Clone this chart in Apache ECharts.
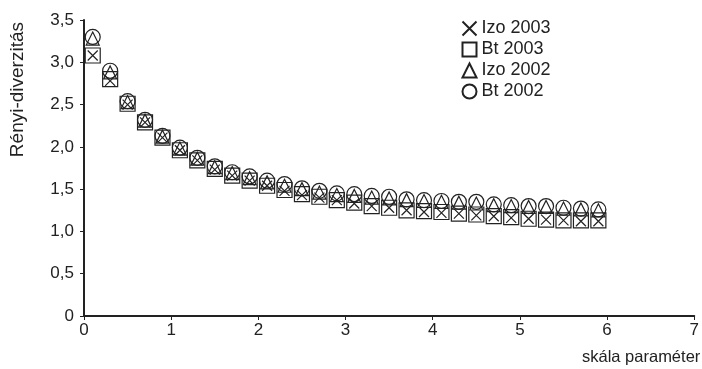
<!DOCTYPE html>
<html>
<head>
<meta charset="utf-8">
<script src="https://cdn.jsdelivr.net/npm/echarts@6/dist/echarts.min.js"></script>
<style>
  html, body { margin: 0; padding: 0; background: #fff; }
  #chart { width: 702px; height: 369px; }
</style>
</head>
<body>
<div id="chart"></div>
<script>
// skála paraméter (x)
const scaleParams = [0.1, 0.3, 0.5, 0.7, 0.9, 1.1, 1.3, 1.5, 1.7, 1.9, 2.1, 2.3, 2.5, 2.7, 2.9,
                     3.1, 3.3, 3.5, 3.7, 3.9, 4.1, 4.3, 4.5, 4.7, 4.9, 5.1, 5.3, 5.5, 5.7, 5.9]

const izo2003 = [3.08, 2.78, 2.50, 2.29, 2.11, 1.96, 1.84, 1.73, 1.66, 1.60, 1.54, 1.48, 1.43, 1.40, 1.37,
                 1.33, 1.30, 1.28, 1.25, 1.23, 1.22, 1.21, 1.19, 1.18, 1.16, 1.15, 1.14, 1.13, 1.12, 1.12]
const bt2003 = [3.08, 2.80, 2.51, 2.29, 2.11, 1.96, 1.84, 1.74, 1.66, 1.60, 1.54, 1.49, 1.44, 1.41, 1.37,
                1.34, 1.30, 1.28, 1.25, 1.24, 1.23, 1.21, 1.20, 1.18, 1.17, 1.15, 1.14, 1.13, 1.13, 1.13]
const izo2002 = [3.28, 2.88, 2.53, 2.31, 2.12, 1.98, 1.86, 1.76, 1.69, 1.63, 1.58, 1.54, 1.50, 1.46, 1.43,
                 1.42, 1.40, 1.39, 1.37, 1.36, 1.35, 1.34, 1.33, 1.31, 1.30, 1.29, 1.29, 1.27, 1.26, 1.25]
const bt2002 = [3.30, 2.90, 2.54, 2.32, 2.13, 1.99, 1.87, 1.77, 1.70, 1.65, 1.60, 1.56, 1.51, 1.48, 1.45,
                1.44, 1.42, 1.41, 1.38, 1.37, 1.36, 1.35, 1.35, 1.32, 1.31, 1.30, 1.30, 1.28, 1.27, 1.26]

const seriesNames = ['Izo 2003', 'Bt 2003', 'Izo 2002', 'Bt 2002']

const INK = '#222'
const FONT = "'Liberation Sans', Arial, sans-serif"
const CROSS = 'path://M0,0L10,10M10,0L0,10'

const pairs = vals => scaleParams.map((x, i) => [x, vals[i]])
const fmt = v => (v === 0 ? '0' : v.toFixed(1).replace('.', ','))

const markerSeries = (name, vals, symbol, size) => ({
    name,
    type: 'scatter',
    data: pairs(vals),
    symbol,
    symbolSize: size,
    itemStyle: {
        color: 'none',
        borderColor: INK,
        borderWidth: 1.2,
        opacity: 1,
    },
    emphasis: { disabled: true },
})

const chart = echarts.init(document.getElementById('chart'))

chart.setOption({
    animation: false,
    textStyle: { fontFamily: FONT },
    grid: {
        left: 84,
        right: 7,
        top: 20,
        bottom: 53,
    },
    legend: {
        orient: 'vertical',
        left: 455,
        top: 14,
        itemGap: 2,
        itemWidth: 14,
        itemHeight: 14,
        textStyle: { color: INK, fontSize: 18, lineHeight: 19, fontFamily: FONT },
        data: seriesNames,
    },
    xAxis: {
        type: 'value',
        min: 0,
        max: 7,
        interval: 1,
        axisLine: { lineStyle: { color: INK, width: 2 } },
        axisTick: { show: true, length: 4, lineStyle: { color: INK, width: 1 } },
        axisLabel: { color: INK, fontSize: 17, fontFamily: FONT, margin: 6 },
        splitLine: { show: false },
    },
    yAxis: {
        type: 'value',
        min: 0,
        max: 3.5,
        interval: 0.5,
        axisLine: { show: true, lineStyle: { color: INK, width: 2 } },
        axisTick: { show: true, length: 4, lineStyle: { color: INK, width: 1 } },
        axisLabel: { color: INK, fontSize: 17, fontFamily: FONT, margin: 10, formatter: fmt },
        splitLine: { show: false },
    },
    graphic: [
        {
            type: 'text',
            left: 8,
            top: 22,
            rotation: Math.PI / 2,
            style: { text: 'Rényi-diverzitás', fill: INK, font: '19px ' + FONT },
        },
        {
            type: 'text',
            left: 582,
            top: 349,
            style: { text: 'skála paraméter', fill: INK, font: '16.5px ' + FONT },
        },
    ],
    series: [
        markerSeries(seriesNames[0], izo2003, CROSS, 10),
        markerSeries(seriesNames[1], bt2003, 'rect', 15),
        markerSeries(seriesNames[2], izo2002, 'triangle', 13),
        markerSeries(seriesNames[3], bt2002, 'circle', 15),
    ],
})
</script>
</body>
</html>
